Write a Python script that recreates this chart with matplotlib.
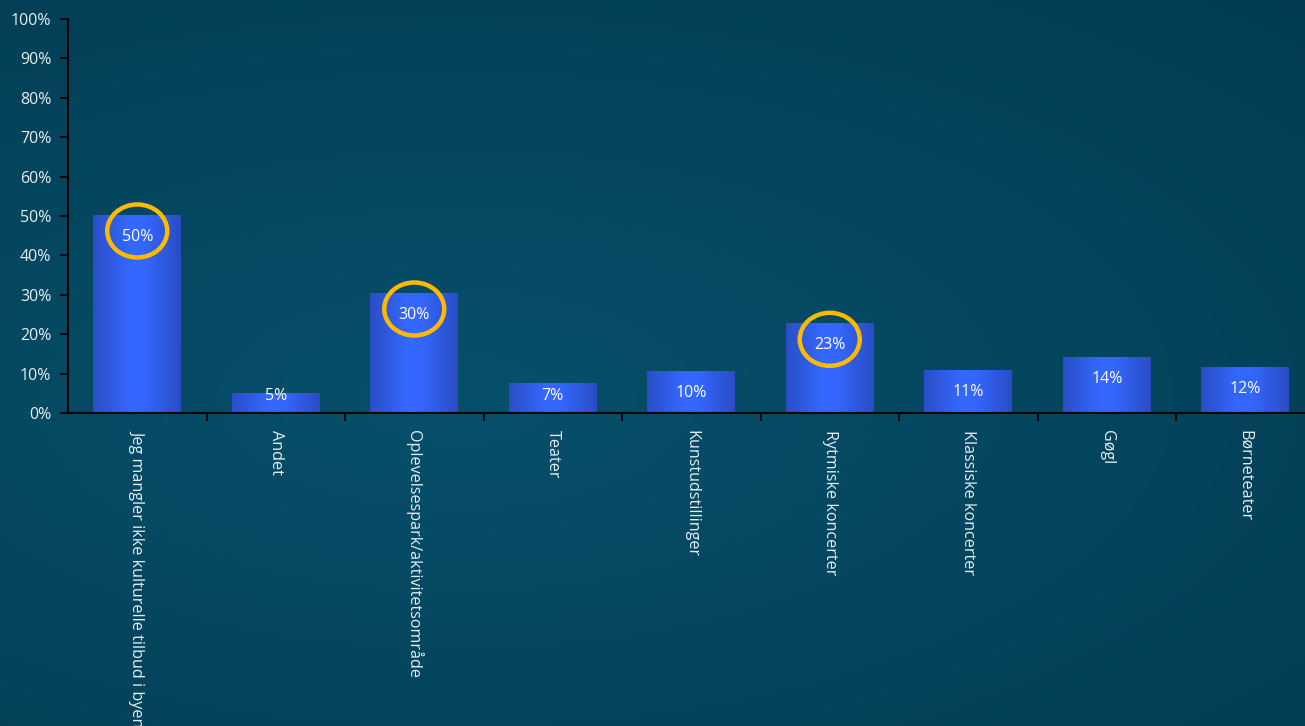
import numpy as np
import matplotlib
matplotlib.use("Agg")
import matplotlib.pyplot as plt
from matplotlib.patches import Ellipse
from matplotlib.colors import LinearSegmentedColormap

categories = ["Jeg mangler ikke kulturelle tilbud i byen", "Andet",
              "Oplevelsespark/aktivitetsområde", "Teater", "Kunstudstillinger",
              "Rytmiske koncerter", "Klassiske koncerter", "Gøgl", "Børneteater"]
values = [50.3, 5.1, 30.5, 7.6, 10.7, 22.8, 10.9, 14.2, 11.7]
labels = ["50%", "5%", "30%", "7%", "10%", "23%", "11%", "14%", "12%"]
highlighted = [0, 2, 5]
yticks = [0, 10, 20, 30, 40, 50, 60, 70, 80, 90, 100]

plt.rcParams['font.family'] = ['Open Sans', 'DejaVu Sans']
W, H = 1305, 726
fig = plt.figure(figsize=(W / 100, H / 100), dpi=100)

# background radial gradient
bg = fig.add_axes([0, 0, 1, 1], zorder=-10)
yy, xx = np.mgrid[0:1:300j, 0:1:540j]
d = np.sqrt(((xx - 0.35) / 1.1) ** 2 + ((yy - 0.55) / 0.9) ** 2)
t = np.clip(d, 0, 1)
c_in = np.array([0x07, 0x50, 0x6b]) / 255
c_out = np.array([0x02, 0x38, 0x4e]) / 255
img = c_in[None, None, :] * (1 - t[..., None]) + c_out[None, None, :] * t[..., None]
bg.imshow(img, extent=[0, 1, 0, 1], aspect='auto', origin='upper')
bg.axis('off')

n = len(categories)
cat_px = 138.5
left = 68 / W
bottom = (H - 413) / H
top = (H - 19) / H
ax = fig.add_axes([left, bottom, n * cat_px / W, top - bottom])
ax.set_facecolor('none')

x = np.arange(n) + 0.5
bars = ax.bar(x, values, width=0.635, color='none', edgecolor='none', zorder=2)

cmap = LinearSegmentedColormap.from_list(
    'barg', [(0, '#2a4ec6'), (0.42, '#3468ff'), (0.6, '#3366fb'), (1, '#2a4dc4')])
grad = np.linspace(0, 1, 256)[None, :]
for b in bars:
    x0, w, h = b.get_x(), b.get_width(), b.get_height()
    im = ax.imshow(grad, cmap=cmap, extent=[x0, x0 + w, 0, h], aspect='auto',
                   zorder=2, interpolation='bilinear')
    im.set_clip_path(b)

ax.set_xlim(0, n)
ax.set_ylim(0, 100)

px_per_unit = 394 / 100
for i, (v, lab) in enumerate(zip(values, labels)):
    ly = max(v - 22 / px_per_unit, 17 / px_per_unit)
    ax.text(x[i], ly, lab, ha='center', va='center', color='white',
            fontsize=11.5, zorder=4)
    if i in highlighted:
        e = Ellipse((x[i], v - 4.1), width=60 / cat_px, height=53 / px_per_unit,
                    fill=False, edgecolor='#ffba00', linewidth=3.2, zorder=5,
                    clip_on=False)
        ax.add_patch(e)

ax.set_yticks(yticks)
ax.set_yticklabels([f"{v}%" for v in yticks], color='#e6eef2', fontsize=11.5)
ax.set_xticks(np.arange(1, n))
ax.set_xticklabels([])
ax.tick_params(axis='y', direction='out', length=6, width=1.3, color='black', pad=6)
ax.tick_params(axis='x', direction='out', length=6, width=1.3, color='black')
for s in ['top', 'right']:
    ax.spines[s].set_visible(False)
for s in ['left', 'bottom']:
    ax.spines[s].set_color('black')
    ax.spines[s].set_linewidth(1.5)

for i, c in enumerate(categories):
    ax.text(x[i], -4.3, c, rotation=-90, ha='center', va='top', color='#e6eef2',
            fontsize=11.6)

fig.savefig('out.png', dpi=100)
